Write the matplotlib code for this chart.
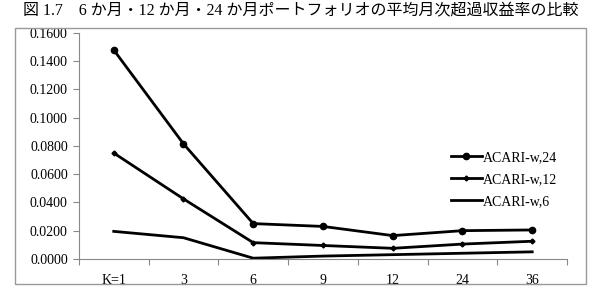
import numpy as np
import matplotlib.pyplot as plt
from matplotlib.patches import Rectangle
from matplotlib.ticker import FormatStrFormatter, FixedLocator

plt.rcParams['font.family'] = ['Liberation Serif', 'Noto Sans CJK JP']

# Data
categories = ["K=1", "3", "6", "9", "12", "24", "36"]
acari_24 = [0.1480, 0.0815, 0.0250, 0.0230, 0.0165, 0.0200, 0.0205]
acari_12 = [0.0750, 0.0425, 0.0115, 0.0095, 0.0075, 0.0105, 0.0125]
acari_6 = [0.0195, 0.0150, 0.0005, 0.0020, 0.0030, 0.0040, 0.0050]

fig = plt.figure(figsize=(6.02, 3.0), dpi=100)
ax = fig.add_axes([0.131, 0.137, 0.811, 0.753])

x = np.arange(len(categories))
ax.plot(x, acari_24, color="black", lw=2, marker="o", ms=4.5, label="ACARI-w,24")
ax.plot(x, acari_12, color="black", lw=2, marker="D", ms=2.5, label="ACARI-w,12")
ax.plot(x, acari_6, color="black", lw=2, label="ACARI-w,6")

ax.set_xlim(-0.5, len(categories) - 0.5)
ax.set_ylim(0, 0.16)
ax.set_yticks(np.arange(0, 0.1601, 0.02))
ax.yaxis.set_major_formatter(FormatStrFormatter("%.4f"))

# boundary ticks between categories, labels at centres
ax.xaxis.set_major_locator(FixedLocator(np.arange(-0.5, len(categories), 1.0)))
ax.set_xticklabels([""] * (len(categories) + 1))
ax.xaxis.set_minor_locator(FixedLocator(x))
ax.set_xticklabels(categories, minor=True)
ax.tick_params(axis="x", which="minor", length=0, pad=11, labelsize=10)
ax.tick_params(axis="x", which="major", length=4, color="#888888")
ax.tick_params(axis="y", length=4, color="#888888", labelsize=10, pad=4)

for s in ["top", "right"]:
    ax.spines[s].set_visible(False)
for s in ["left", "bottom"]:
    ax.spines[s].set_color("#888888")

ax.legend(loc="upper right", bbox_to_anchor=(1.0, 0.52), frameon=False,
          fontsize=10, handlelength=2.2, labelspacing=0.65, handletextpad=0.1,
          borderaxespad=0.3)

# outer chart frame
fig.patches.append(Rectangle((0.025, 0.053), 0.948, 0.853, transform=fig.transFigure,
                             fill=False, edgecolor="#999999", lw=1))

fig.text(0.5, 0.962, "図 1.7　6 か月・12 か月・24 か月ポートフォリオの平均月次超過収益率の比較",
         ha="center", va="center", fontsize=11.5)

fig.savefig("out.png", dpi=100)
